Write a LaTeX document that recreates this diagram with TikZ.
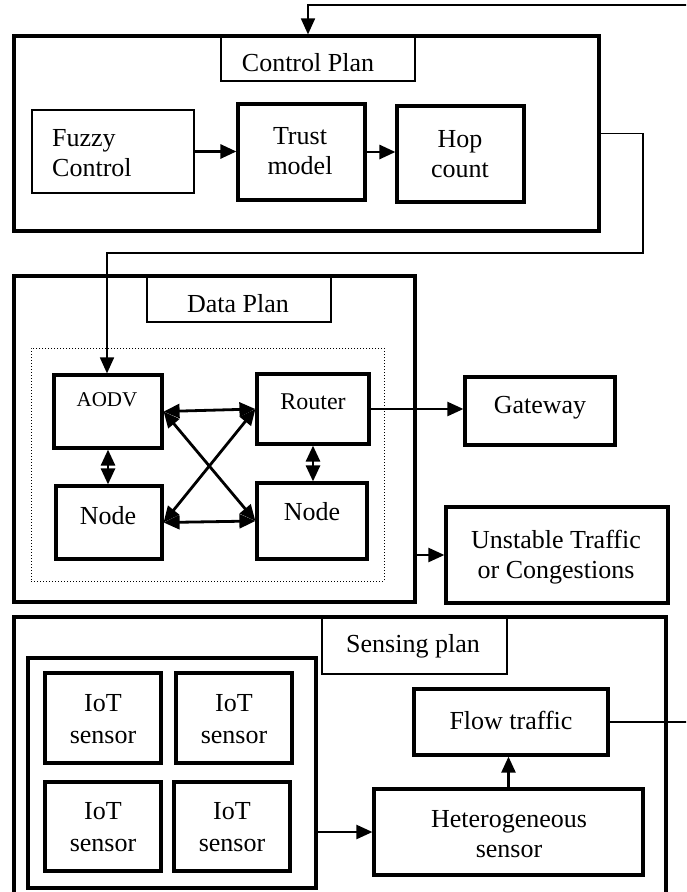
\documentclass[tikz,border=0pt]{standalone}
\usepackage{fontspec}
\setmainfont{Liberation Serif}
\usetikzlibrary{arrows.meta}
\begin{document}
\begin{tikzpicture}[x=1pt,y=-1pt,
  thickbox/.style={draw, line width=3.2pt, inner sep=0pt},
  thinbox/.style={draw, line width=1.5pt, inner sep=0pt},
  dotbox/.style={draw, line width=1pt, dotted, inner sep=0pt},
  txt/.style={inner sep=0pt, align=center, font=\fontsize{26}{30}\selectfont},
  tip/.style={-{Triangle[length=16pt,width=14pt]}},
  arr/.style={line width=2.8pt, -{Triangle[length=16pt,width=14pt]}},
  darr/.style={line width=2.8pt, {Triangle[length=16pt,width=14pt]}-{Triangle[length=16pt,width=14pt]}},
  conn/.style={line width=1.8pt},
]
\useasboundingbox (0,0) rectangle (686,892);
\clip (0,0) rectangle (686,892);

% ---------- Control plan ----------
\node[thickbox, minimum width=585, minimum height=195] (ctrl) at (306.5,133.5) {};
\node[thinbox, minimum width=194, minimum height=45] (ctrllab) at (318,58.5) {};
\node[thinbox, minimum width=162, minimum height=83] (fuzzy) at (113,151.5) {};
\node[thickbox, minimum width=127, minimum height=96] (trust) at (301.5,152) {};
\node[thickbox, minimum width=127, minimum height=96] (hop) at (460.5,154) {};

\node[txt] (tctrl) at (308,63) {Control Plan};
\node[txt, align=left, anchor=west] (tfuzzy) at (52,153) {Fuzzy\\Control};
\node[txt] (ttrust) at (300,151) {Trust\\model};
\node[txt] (thop) at (460,154) {Hop\\count};

\draw[arr] (fuzzy.east) -- (fuzzy.east -| trust.west);
\draw[arr] (trust.east) -- (trust.east -| hop.west);

% ---------- Data plan ----------
\node[thickbox, minimum width=401, minimum height=326] (data) at (214.5,439) {};
\node[thinbox, minimum width=184, minimum height=45] (datalab) at (239,299.5) {};
\node[dotbox, minimum width=353, minimum height=233] (cluster) at (207.5,464.5) {};
\node[thickbox, minimum width=108, minimum height=73] (aodv) at (108,411.5) {};
\node[thickbox, minimum width=112, minimum height=70] (router) at (313,409) {};
\node[thickbox, minimum width=106, minimum height=73] (nodel) at (109,522.5) {};
\node[thickbox, minimum width=110, minimum height=76] (noder) at (312,521) {};
\node[thickbox, minimum width=150, minimum height=68] (gate) at (540,411) {};
\node[thickbox, minimum width=222, minimum height=96] (unst) at (557,555) {};

\node[txt] (tdata) at (238,304) {Data Plan};
\node[txt, font=\fontsize{21}{25}\selectfont] (taodv) at (107,400) {AODV};
\node[txt, font=\fontsize{24}{28}\selectfont] (trouter) at (313,402) {Router};
\node[txt] (tnodel) at (108,516) {Node};
\node[txt] (tnoder) at (312,512) {Node};
\node[txt] (tgate) at (540,408) {Gateway};
\node[txt] (tunst) at (556,557) {Unstable Traffic\\or Congestions};

\draw[darr] (aodv.east) -- (router.west);
\draw[darr] (aodv.east) -- (noder.west);
\draw[darr] (router.west) -- (nodel.east);
\draw[darr] (nodel.east) -- (noder.west);
\draw[darr] (aodv.south) -- (aodv.south |- nodel.north);
\draw[darr] (router.south) -- (router.south |- noder.north);
\draw[line width=2.4pt, tip] (router.east) -- (router.east -| gate.west);
\draw[line width=2.4pt, tip] (unst.west -| data.east) -- (unst.west);

% ---------- Sensing plan ----------
\node[thickbox, minimum width=652, minimum height=288] (sense) at (340,761) {};
\node[thinbox, minimum width=185, minimum height=56] (senselab) at (414.5,646) {};
\node[thickbox, minimum width=288, minimum height=230] (group) at (172,773) {};
\node[thickbox, minimum width=116, minimum height=90] (iot1) at (103,718) {};
\node[thickbox, minimum width=116, minimum height=90] (iot2) at (234,718) {};
\node[thickbox, minimum width=116, minimum height=89] (iot3) at (103,826.5) {};
\node[thickbox, minimum width=116, minimum height=89] (iot4) at (232,826.5) {};
\node[thickbox, minimum width=194, minimum height=66] (flow) at (511,722) {};
\node[thickbox, minimum width=269, minimum height=86] (hetero) at (508.5,832) {};

\node[txt] (tsense) at (413,646) {Sensing plan};
\node[txt, font=\fontsize{26}{32}\selectfont] (tiot1) at (103,719) {IoT\\sensor};
\node[txt, font=\fontsize{26}{32}\selectfont] (tiot2) at (234,719) {IoT\\sensor};
\node[txt, font=\fontsize{26}{32}\selectfont] (tiot3) at (103,827) {IoT\\sensor};
\node[txt, font=\fontsize{26}{32}\selectfont] (tiot4) at (232,827) {IoT\\sensor};
\node[txt] (tflow) at (511,720) {Flow traffic};
\node[txt] (thetero) at (509,834) {Heterogeneous\\sensor};

\draw[line width=2.4pt, tip] (hetero.west -| group.east) -- (hetero.west);
\draw[line width=2.4pt, tip] (hetero.north) -- (hetero.north |- flow.south);

% ---------- Connectors between planes ----------
\coordinate (fbA) at (720,722);
\coordinate (fbB) at (720,5);
\coordinate (fbC) at (308,5);
\draw[conn, tip] (flow.east) -- (fbA) -- (fbB) -- (fbC) -- (fbC |- ctrl.north);

\coordinate (cdA) at (643,133.5);
\coordinate (cdB) at (643,253);
\coordinate (cdC) at (107,253);
\draw[conn, tip] (ctrl.east) -- (cdA) -- (cdB) -- (cdC) -- (cdC |- aodv.north);
\end{tikzpicture}
\end{document}
